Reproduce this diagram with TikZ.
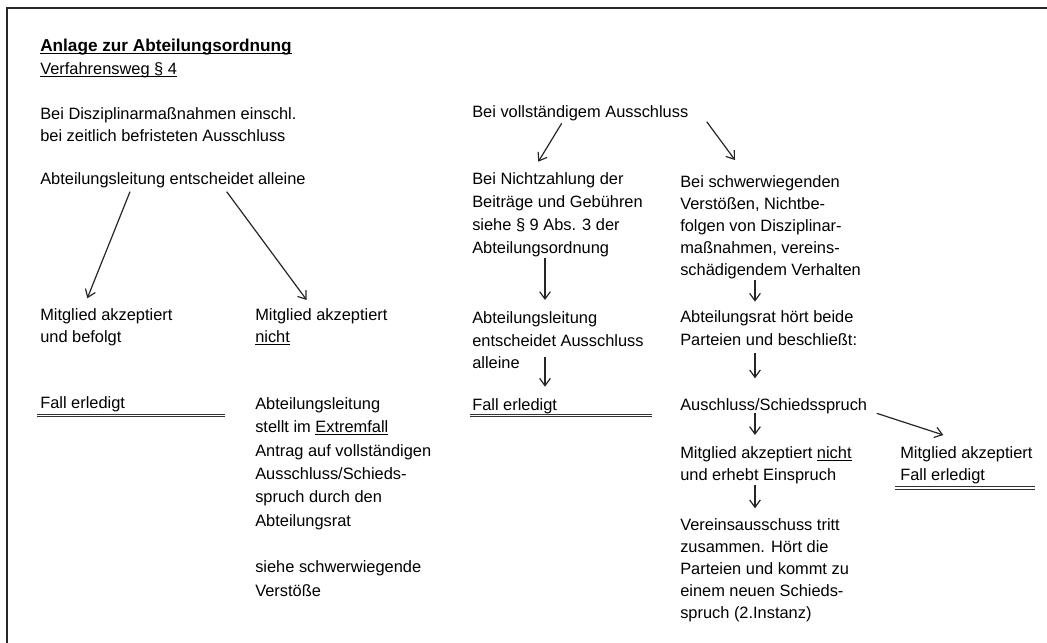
\documentclass[tikz,border=0pt]{standalone}
\usepackage{fontspec}
\setmainfont{Liberation Sans}
\usetikzlibrary{arrows.meta}
\newcommand{\uText}[1]{\underline{\smash{#1}}}
\begin{document}
\begin{tikzpicture}
		[x=0.75pt,y=-0.75pt,
			textDecorate/.style={anchor=base west,inner sep=0pt,align=left,text=black,
				font=\fontsize{12.3}{16.5}\selectfont},
			arrowDecorate/.style={-{Straight Barb[length=5.5pt,width=8pt]},line width=0.9pt,draw=black!85},
			ruleDecorate/.style={draw=black!80,line width=0.75pt,double=white,double distance=1.3pt},
			frameDecorate/.style={draw=black!85,line width=1.6pt}]
		\useasboundingbox (0,0) rectangle (1047,643);
		\draw[frameDecorate] (7,650) -- (7,8) -- (1050,8);
		% left column (multi-line nodes sit on their last line)
		\node (title) at (40,51) [textDecorate,font=\fontsize{12.9}{16.5}\selectfont]
			{\textbf{\uText{Anlage zur Abteilungsordnung}}};
		\node (sub) at (40,74) [textDecorate] {\uText{Verfahrensweg § 4}};
		\node (disz) at (40,141) [textDecorate]
			{Bei Disziplinarmaßnahmen einschl.\\bei zeitlich befristeten Ausschluss};
		\node (abtl) at (40,184) [textDecorate] {Abteilungsleitung entscheidet alleine};
		\node (mitA) at (40,342) [textDecorate] {Mitglied akzeptiert\\und befolgt};
		\node (mitB) at (255,342) [textDecorate] {Mitglied akzeptiert\\\uText{nicht}};
		\node (fallA) at (40,408.5) [textDecorate] {Fall erledigt};
		\node (antrag) at (255,596) [textDecorate,font=\fontsize{12.3}{17.5}\selectfont]
			{Abteilungsleitung\\stellt im \uText{Extremfall}\\Antrag auf vollständigen\\Ausschluss/Schieds-\\spruch durch den\\Abteilungsrat\\[17.5pt]siehe schwerwiegende\\Verstöße};
		% middle column
		\node (voll) at (472,117) [textDecorate] {Bei vollständigem Ausschluss};
		\node (nichtz) at (472,253.6) [textDecorate,font=\fontsize{12.3}{17.4}\selectfont]
			{Bei Nichtzahlung der\\Beiträge und Gebühren\\siehe § 9 Abs. 3 der\\Abteilungsordnung};
		\node (abtlB) at (472,368.7) [textDecorate,font=\fontsize{12.3}{16.9}\selectfont]
			{Abteilungsleitung\\entscheidet Ausschluss\\alleine};
		\node (fallB) at (472,410) [textDecorate] {Fall erledigt};
		% right column
		\node (schwer) at (680,275) [textDecorate]
			{Bei schwerwiegenden\\Verstößen, Nichtbe-\\folgen von Disziplinar-\\maßnahmen, vereins-\\schädigendem Verhalten};
		\node (rat) at (680,345) [textDecorate,font=\fontsize{12.3}{17.2}\selectfont]
			{Abteilungsrat hört beide\\Parteien und beschließt:};
		\node (ausschl) at (680,410) [textDecorate] {Auschluss/Schiedsspruch};
		\node (mitC) at (680,480) [textDecorate,font=\fontsize{12.3}{16.3}\selectfont]
			{Mitglied akzeptiert \uText{nicht}\\und erhebt Einspruch};
		\node (mitD) at (900,480) [textDecorate,font=\fontsize{12.3}{16.3}\selectfont]
			{Mitglied akzeptiert\\Fall erledigt};
		\node (verein) at (680,618) [textDecorate]
			{Vereinsausschuss tritt\\zusammen. Hört die\\Parteien und kommt zu\\einem neuen Schieds-\\spruch (2.Instanz)};
		% arrows
		\foreach \startnode/\sx/\sy/\endnode/\ex/\ey in {
				abtl/90/7.7/mitA/47.3/-43.7, abtl/186.7/7.7/mitB/51.7/-42,
				voll/89.7/6.3/nichtz/66.3/-91.9, voll/234.7/4.7/schwer/55/-115,
				nichtz/73/4.7/abtlB/73/-68.7, abtlB/73/-12/fallB/73/-23.3,
				schwer/75/5/rat/75/-43.3, rat/75/8.3/ausschl/75/-31.7,
				ausschl/75/3.3/mitC/75/-45, ausschl/196.7/3.3/mitD/43.3/-45,
				mitC/75/5/verein/75/-109.7}
			{
				\draw[arrowDecorate] ([shift={(\sx,\sy)}]\startnode.base west) -- ([shift={(\ex,\ey)}]\endnode.base west);
			}
		% double rules under "Fall erledigt"
		\foreach \nodename/\sx/\sy/\len in {fallA/-3/7/188, fallB/-2/5.5/182, mitD/-5/8.3/140}
			{
				\draw[ruleDecorate] ([shift={(\sx,\sy)}]\nodename.base west) -- ++(\len,0);
			}
	\end{tikzpicture}
\end{document}
